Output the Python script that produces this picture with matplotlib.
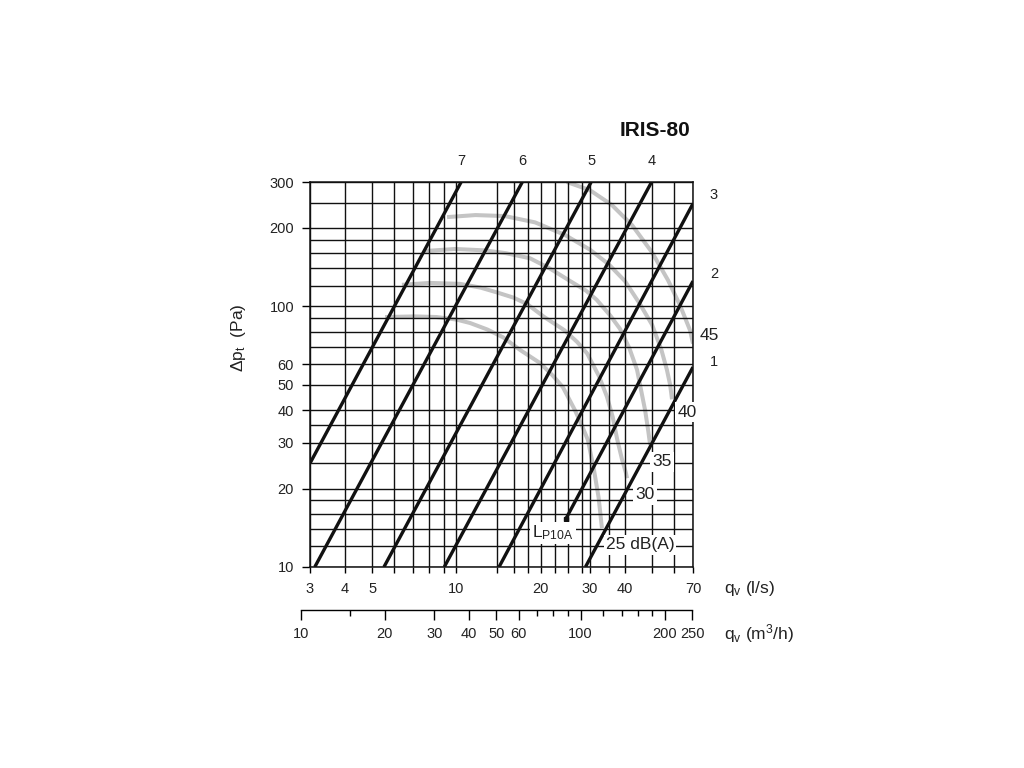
import numpy as np
import matplotlib.pyplot as plt
from matplotlib.ticker import FixedLocator, FixedFormatter, NullFormatter, NullLocator

plt.rcParams['font.family'] = ['Liberation Sans', 'DejaVu Sans']
plt.rcParams['mathtext.default'] = 'regular'

# grid / tick values
q_grid = [3, 4, 5, 6, 7, 8, 9, 10, 14, 16, 18, 20, 22.5, 25, 28, 30, 35, 40, 50, 60, 70]
q_ticklabels = ['3', '4', '5', '', '', '', '', '10', '', '', '', '20', '', '', '', '30', '', '40', '', '', '70']
p_major = [10, 20, 30, 40, 50, 60, 100, 200, 300]
p_minor = [12, 14, 16, 18, 25, 35, 70, 80, 90, 120, 140, 160, 180, 250]
m3h_major = [10, 20, 30, 40, 50, 60, 100, 200, 250]
m3h_minor = [15, 70, 80, 90, 120, 140, 160, 180]

# black lines (damper positions): start and end points
line_ids = ['7', '6', '5', '4', '3', '2', '1']
line_q0 = [3, 3.12, 5.51, 9.05, 14.2, 24.6, 28.9]
line_p0 = [25, 10, 10, 10, 10, 15.3, 10]
line_q1 = [10.4, 17.2, 30.3, 49.8, 70, 70, 70]
line_p1 = [300, 300, 300, 300, 248, 125, 58.5]

# grey sound level curves LP10A (dB(A))
db25_q = [5.56, 7.1, 8.5, 10.0, 11.2, 12.9, 14.7, 16.9, 19.9, 22.0, 24.0, 26.5, 28.2, 29.5, 31.0, 32.2, 33.1]
db25_p = [91, 91.5, 91, 89, 86.3, 81.5, 76, 68, 60.6, 54.5, 49, 40, 34.5, 30.7, 23.6, 18.5, 14.1]
db30_q = [6.39, 8.05, 10.3, 12.2, 14.0, 16.0, 17.9, 20.6, 24.3, 27.0, 29.3, 32.3, 34.5, 36.2, 37.5, 39.0, 40.3, 40.7]
db30_p = [121, 123, 122, 118, 113, 108, 102, 91, 81, 73, 66, 54, 45, 37.5, 31, 26, 23, 21.9]
db35_q = [7.7, 9.9, 12.6, 15.0, 18.3, 21.5, 25.5, 29.0, 31.7, 35.5, 38.4, 41.5, 44.2, 45.8, 47.2, 48.5, 49.2]
db35_p = [163, 166, 164, 160, 153, 140, 125, 115, 106, 92, 82, 69, 57, 47, 40, 33, 29.4]
db40_q = [9.26, 11.7, 14.9, 19.1, 24.4, 30.0, 35.0, 40.0, 45.0, 50.0, 54.0, 56.5, 58.0, 58.9]
db40_p = [220, 224, 222, 210, 188, 165, 145, 125, 103, 85, 68, 57, 50, 44]
db45_q = [24.8, 30.0, 35.9, 42.4, 50.0, 57.0, 62.9, 68.3, 70.0]
db45_p = [300, 279, 245, 205, 161, 126, 101, 81, 72]

txt = '#222222'
fig = plt.figure(figsize=(10.24, 7.68), dpi=100)
ax_left, ax_w = 310 / 1024, 383 / 1024
ax = fig.add_axes([ax_left, 1 - 567 / 768, ax_w, 385 / 768])
ax.set_xscale('log')
ax.set_yscale('log')
ax.set_xlim(3, 70)
ax.set_ylim(10, 300)

# grey curves
for cq, cp in [(db25_q, db25_p), (db30_q, db30_p), (db35_q, db35_p),
               (db40_q, db40_p), (db45_q, db45_p)]:
    ax.plot(cq, cp, color='#c4c4c4', lw=2.9, zorder=1, solid_capstyle='butt')

# black lines
for i in range(len(line_ids)):
    ax.plot([line_q0[i], line_q1[i]], [line_p0[i], line_p1[i]], color='#111111',
            lw=2.4, zorder=3, solid_capstyle='butt')
ax.plot(line_q0[5], line_p0[5], 's', color='#111111', ms=3.5, zorder=3)

# grid and ticks
ax.xaxis.set_major_locator(FixedLocator(q_grid))
ax.xaxis.set_major_formatter(FixedFormatter(q_ticklabels))
ax.xaxis.set_minor_locator(NullLocator())
ax.yaxis.set_major_locator(FixedLocator(p_major))
ax.yaxis.set_major_formatter(FixedFormatter([str(v) for v in p_major]))
ax.yaxis.set_minor_locator(FixedLocator(p_minor))
ax.yaxis.set_minor_formatter(NullFormatter())
ax.grid(which='both', color='#111111', lw=1.0)
ax.tick_params(axis='x', which='major', direction='out', length=4.5, width=1.0,
               pad=6, labelsize=10.5, labelcolor=txt)
ax.tick_params(axis='y', which='major', direction='out', length=5.5, width=1.0,
               pad=6, labelsize=10.5, labelcolor=txt)
ax.tick_params(axis='y', which='minor', length=0)
for s in ax.spines.values():
    s.set_linewidth(1.1)
    s.set_color('#111111')

# line labels
for i, lid in enumerate(line_ids):
    if line_p1[i] >= 300:
        off = (0, 15)
    else:
        off = (15, [6, 5, 3.5][i - 4])
    ax.annotate(lid, (line_q1[i], line_p1[i]), xytext=off, textcoords='offset points',
                ha='center', va='center', fontsize=10.5, color=txt, annotation_clip=False)

# sound level labels
box = dict(facecolor='white', edgecolor='none', pad=1.5)
ax.text(79.8, 77, '45', ha='center', va='center', fontsize=12.5, color=txt)
ax.text(66.6, 39.3, '40', ha='center', va='center', fontsize=12.5, color=txt, bbox=box, zorder=4)
ax.text(54.2, 25.3, '35', ha='center', va='center', fontsize=12.5, color=txt, bbox=box, zorder=4)
ax.text(47.2, 18.9, '30', ha='center', va='center', fontsize=12.5, color=txt, bbox=box, zorder=4)
ax.text(45.3, 12.15, '25 dB(A)', ha='center', va='center', fontsize=12.5, color=txt, bbox=box, zorder=4)
ax.text(22.1, 13.5, 'L$_{P10A}$', ha='center', va='center', fontsize=12.5, color=txt, bbox=box, zorder=4)

# second scale in m3/h
dec = ax_w / np.log10(70 / 3)
m_lo, m_hi = 9.5, 262
ax2 = fig.add_axes([ax_left + dec * np.log10(m_lo / (3 * 3.6)), 1 - 610 / 768,
                    dec * np.log10(m_hi / m_lo), 0.01])
ax2.set_xscale('log')
ax2.set_xlim(m_lo, m_hi)
ax2.patch.set_visible(False)
for k in ['top', 'left', 'right']:
    ax2.spines[k].set_visible(False)
ax2.spines['bottom'].set_bounds(10, 250)
ax2.spines['bottom'].set_linewidth(1.0)
ax2.set_yticks([])
ax2.xaxis.set_major_locator(FixedLocator(m3h_major))
ax2.xaxis.set_major_formatter(FixedFormatter([str(v) for v in m3h_major]))
ax2.xaxis.set_minor_locator(FixedLocator(m3h_minor))
ax2.xaxis.set_minor_formatter(NullFormatter())
ax2.tick_params(axis='x', which='major', direction='out', length=7, width=1.0,
                pad=5, labelsize=10.5, labelcolor=txt)
ax2.tick_params(axis='x', which='minor', direction='out', length=4.5, width=1.0)

# axis titles and heading
fig.text(724 / 1024, 1 - 588 / 768, 'q$_v$ (l/s)', ha='left', va='center', fontsize=12.5, color=txt)
fig.text(724 / 1024, 1 - 634 / 768, 'q$_v$ (m$^3$/h)', ha='left', va='center', fontsize=12.5, color=txt)
fig.text(238 / 1024, 1 - 338 / 768, 'Δp$_t$  (Pa)', ha='center', va='center', rotation=90,
         fontsize=12.5, color=txt)
fig.text(655 / 1024, 1 - 130 / 768, 'IRIS-80', ha='center', va='center', fontsize=15,
         fontweight='bold', color='#111111')

fig.savefig('out.png', dpi=100, facecolor='white')
